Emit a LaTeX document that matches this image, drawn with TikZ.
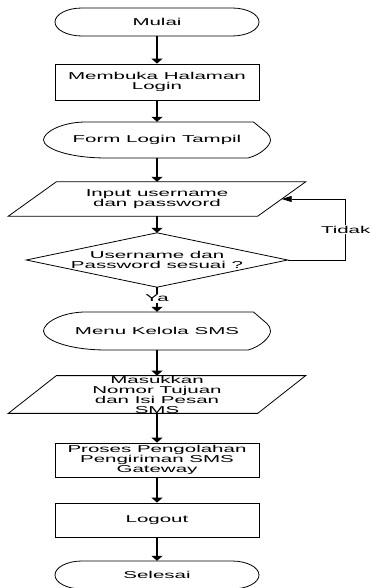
\documentclass[tikz,border=0pt]{standalone}
\usepackage{fontspec}
\setmainfont{Liberation Sans}[FakeStretch=2.05]
\usetikzlibrary{arrows.meta,calc}
\newcommand\fs{\fontsize{10}{10.5}\selectfont}
\newcommand\termshape[1]{\draw[shp,shift={(#1.center)}] (-75,14) -- (75,14) arc[start angle=90,end angle=-90,x radius=27,y radius=14] -- (-75,-14) arc[start angle=270,end angle=90,x radius=27,y radius=14] -- cycle;}
\newcommand\dispshape[2]{\draw[shp,shift={(#1.center)},yscale=#2] (96.5,18) -- (-71,18) .. controls (-95,18) and (-113.5,8) .. (-113.5,0) .. controls (-113.5,-8) and (-90,-18) .. (-50,-18) -- (91,-18) .. controls (103,-15) and (113.5,-6) .. (113.5,0) .. controls (113.5,3) and (112,5) .. (110,7) -- cycle;}
\newcommand\paral[1]{\draw[shp] (#1.south west) -- ([xshift=-48]#1.south east) -- (#1.north east) -- ([xshift=48]#1.north west) -- cycle;}
\begin{document}
\begin{tikzpicture}[x=1pt,y=1pt,
  base/.style={inner sep=0pt, align=center, font=\fs},
  shp/.style={draw=black, line width=0.8pt},
  rectbox/.style={base, draw=black, line width=0.8pt, minimum width=204, minimum height=34},
  arr/.style={line width=1.3pt, -{Triangle[width=11pt,length=5pt]}},
  larr/.style={line width=0.6pt, -{Triangle[width=6pt,length=10pt]}},
  lbl/.style={fill=white, inner sep=1pt, font=\fs}]
\useasboundingbox (0,0) rectangle (370,-588);
\clip (0,0) rectangle (370,-588);
\fill[white] (0,0) rectangle (370,-588);

\node[base, minimum width=204, minimum height=28] (mulai) at (157,-22) {Mulai};
\node[rectbox, minimum height=36] (buka) at (157,-82) {Membuka Halaman\\Login};
\node[base, minimum width=227, minimum height=36] (form) at (157,-140) {Form Login Tampil};
\node[base, minimum width=297, minimum height=34] (input) at (157,-199) {Input username\\dan password};
\node[base, minimum width=261, minimum height=54] (cek) at (157,-260) {Username dan\\Password sesuai ?};
\node[base, minimum width=227, minimum height=38] (menu) at (157,-331) {Menu Kelola SMS};
\node[base, minimum width=297, minimum height=37, font=\fontsize{10}{10}\selectfont] (masuk) at (157,-394.5) {Masukkan\\Nomor Tujuan\\dan Isi Pesan\\SMS};
\node[rectbox, font=\fontsize{10}{10}\selectfont] (proses) at (157,-460) {Proses Pengolahan\\Pengiriman SMS\\Gateway};
\node[rectbox] (logout) at (157,-520) {Logout};
\node[base, minimum width=204, minimum height=28] (selesai) at (157,-575) {Selesai};

\termshape{mulai}
\termshape{selesai}
\dispshape{form}{1}
\dispshape{menu}{1.056}
\paral{input}
\paral{masuk}
\draw[shp] (cek.north) -- (cek.east) -- (cek.south) -- (cek.west) -- cycle;

\draw[arr] (mulai.south) -- (buka.north);
\draw[arr] (buka.south) -- (form.north);
\draw[arr] (form.south) -- (input.north);
\draw[arr] (input.south) -- (cek.north);
\draw[arr] (cek.south) -- node[lbl, pos=0.44] {Ya} (menu.north);
\draw[arr] (menu.south) -- (masuk.north);
\draw[arr] (masuk.south) -- (proses.north);
\draw[arr] (proses.south) -- (logout.north);
\draw[arr] (logout.south) -- (selesai.north);

\coordinate (inR) at ($(input.east)+(-24,0)$);
\coordinate (lp) at ($(cek.east)+(58,0)$);
\draw[larr] (cek.east) -- (lp) |- node[lbl, pos=0.25] {Tidak} (inR);
\end{tikzpicture}
\end{document}
